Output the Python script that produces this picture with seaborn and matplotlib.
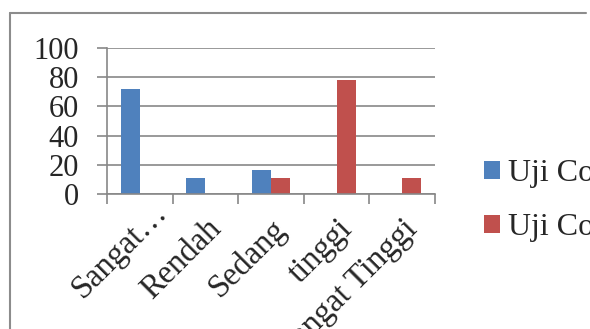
import matplotlib
matplotlib.use("Agg")
import matplotlib.pyplot as plt
from matplotlib.lines import Line2D
from matplotlib.transforms import ScaledTranslation
import seaborn as sns
import pandas as pd

# Percentage of students per category, two trial groups
categories = ["Sangat Rendah", "Rendah", "Sedang", "tinggi", "Sangat Tinggi"]
tick_labels = ["Sangat\u2026", "Rendah", "Sedang", "tinggi", "Sangat Tinggi"]
series_names = ["Uji Coba I", "Uji Coba II"]
uji_coba_1 = [72.22, 11.11, 16.67, 0.0, 0.0]
uji_coba_2 = [0.0, 0.0, 11.11, 77.78, 11.11]
y_ticks = [0, 20, 40, 60, 80, 100]

df = pd.DataFrame({
    "kategori": categories * 2,
    "seri": [series_names[0]] * len(categories) + [series_names[1]] * len(categories),
    "persen": uji_coba_1 + uji_coba_2,
})

sns.set_theme(style="white")
plt.rcParams["font.family"] = ["Liberation Serif", "DejaVu Serif"]

W, H = 590, 329
fig = plt.figure(figsize=(W / 100, H / 100), dpi=100)
ax = fig.add_axes([107 / W, 1 - 194 / H, 328 / W, 146 / H])

grid_c = "#878787"
palette = {series_names[0]: "#4F81BD", series_names[1]: "#C0504D"}

sns.barplot(data=df, x="kategori", y="persen", hue="seri", order=categories,
            hue_order=series_names, palette=palette, width=0.588, gap=0,
            saturation=1, dodge=True, ax=ax, linewidth=0)

ax.set_xlim(-0.5, len(categories) - 0.5)
ax.set_ylim(0, 100)
ax.set_xlabel("")
ax.set_ylabel("")

# y axis: gridlines plus outward ticks
ax.set_yticks(y_ticks)
ax.set_yticklabels([str(v) for v in y_ticks], fontsize=22)
ax.yaxis.grid(True, color=grid_c, linewidth=1.2)
ax.set_axisbelow(True)
ax.tick_params(axis="y", which="major", direction="out", length=7.2,
               width=1.2, color=grid_c, pad=13, left=True)

# x axis: tick marks at category boundaries, labels at category centres
ax.set_xticks(range(len(categories)))
ax.set_xticklabels(tick_labels, fontsize=23.5, rotation=45, ha="right",
                   va="top", rotation_mode="anchor")
ax.tick_params(axis="x", which="major", length=0, pad=14)
ax.set_xticks([i - 0.5 for i in range(len(categories) + 1)], minor=True)
ax.tick_params(axis="x", which="minor", direction="out", length=7.2,
               width=1.2, color=grid_c, bottom=True)

# the shortened first label sits further along its slant
first = ax.get_xticklabels()[0]
first.set_transform(first.get_transform()
                    + ScaledTranslation(0.12, 0.17, fig.dpi_scale_trans))

for side in ("top", "right"):
    ax.spines[side].set_visible(False)
for side in ("left", "bottom"):
    ax.spines[side].set_color(grid_c)
    ax.spines[side].set_linewidth(1.2)

# legend on the right
handles, labels = ax.get_legend_handles_labels()
ax.legend(handles, labels, loc="upper left",
          bbox_to_anchor=(484 / W, 1 - 159 / H), bbox_transform=fig.transFigure,
          frameon=False, fontsize=23, handlelength=0.5, handleheight=0.5,
          handletextpad=0.25, labelspacing=0.75, borderpad=0, borderaxespad=0)

# outer chart frame
frame_c = "#8C8C8C"
fig.add_artist(Line2D([10 / W, 586 / W], [1 - 13 / H, 1 - 13 / H],
                      transform=fig.transFigure, color=frame_c, linewidth=1.5))
fig.add_artist(Line2D([10 / W, 10 / W], [1 - 13 / H, 0],
                      transform=fig.transFigure, color=frame_c, linewidth=1.5))

fig.savefig("out.png", dpi=100)
